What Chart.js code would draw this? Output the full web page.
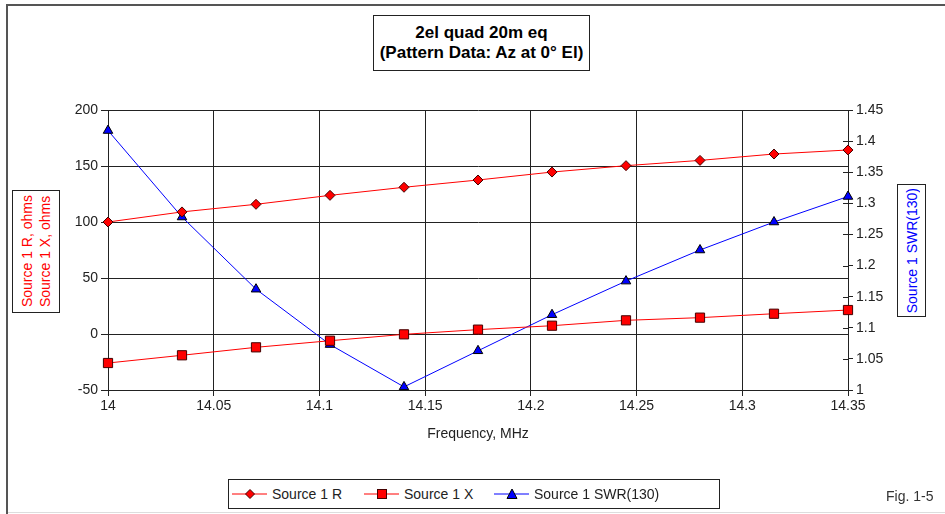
<!DOCTYPE html>
<html>
<head>
<meta charset="utf-8">
<script src="https://cdn.jsdelivr.net/npm/chart.js@4.4.0/dist/chart.umd.min.js"></script>
<style>
    body { margin: 0; background: #fff; font-family: "Liberation Sans", Arial, sans-serif; }
    #marco { position: relative; width: 945px; height: 514px; overflow: hidden; background: #fff; }
    #grafico { position: absolute; left: 0; top: 0; }
    #bordeSup { position: absolute; left: 6px; top: 4px; width: 945px; height: 2px; background: #555; }
    #bordeIzq { position: absolute; left: 6px; top: 4px; width: 2px; height: 510px; background: #555; }
    #bordeInf { position: absolute; left: 8px; top: 512px; width: 937px; height: 1px; background: #ddd; }
    .caja { position: absolute; border: 1px solid #222; background: #fff; box-sizing: border-box; }
    #titulo { left: 373px; top: 15px; width: 217px; height: 56px; font-weight: bold; font-size: 17px;
              text-align: center; line-height: 20px; padding-top: 7px; color: #000; white-space: nowrap; }
    .vertical { position: absolute; display: flex; align-items: center; justify-content: center; }
    .vertical span { writing-mode: vertical-rl; transform: rotate(180deg); font-size: 14px; line-height: 18px; white-space: nowrap; }
    #ejeIzq { left: 12px; top: 190px; width: 48px; height: 123px; }
    #ejeIzq span { color: #ff0000; }
    #ejeDer { left: 897px; top: 184px; width: 29px; height: 133px; }
    #ejeDer span { color: #0000ff; }
    #leyenda { left: 228px; top: 479px; width: 492px; height: 30px; }
    .item { position: absolute; top: 0; height: 28px; display: flex; align-items: center; font-size: 14px; color: #222; }
    .item svg { margin-right: 4px; }
    #fig { position: absolute; left: 886px; top: 488px; font-size: 14px; color: #333; }
</style>
</head>
<body>
<div id="marco">
    <canvas id="grafico" width="945" height="514"></canvas>
    <div id="bordeSup"></div>
    <div id="bordeIzq"></div>
    <div id="bordeInf"></div>

    <div id="titulo" class="caja">2el quad 20m eq<br>(Pattern Data: Az at 0° El)</div>

    <div id="ejeIzq" class="caja vertical"><span>Source 1 R, ohms<br>Source 1 X, ohms</span></div>
    <div id="ejeDer" class="caja vertical"><span>Source 1 SWR(130)</span></div>

    <div id="leyenda" class="caja">
        <div class="item" style="left:3px">
            <svg width="36" height="12"><line x1="0" y1="6" x2="35" y2="6" stroke="#ff0000" stroke-width="1"/>
                <polygon points="18,1.5 22.5,6 18,10.5 13.5,6" fill="#ff0000" stroke="#400" stroke-width="1"/></svg>
            Source 1 R
        </div>
        <div class="item" style="left:135px">
            <svg width="36" height="12"><line x1="0" y1="6" x2="35" y2="6" stroke="#ff0000" stroke-width="1"/>
                <rect x="13.5" y="1.5" width="9" height="9" fill="#ff0000" stroke="#400" stroke-width="1"/></svg>
            Source 1 X
        </div>
        <div class="item" style="left:265px">
            <svg width="36" height="12"><line x1="0" y1="6" x2="35" y2="6" stroke="#0000ff" stroke-width="1"/>
                <polygon points="18,1 23,10.5 13,10.5" fill="#0000ff" stroke="#000" stroke-width="1"/></svg>
            Source 1 SWR(130)
        </div>
    </div>

    <div id="fig">Fig. 1-5</div>
</div>

<script>
// ------------------------------ Datos ------------------------------
const frecuencias = [14, 14.035, 14.07, 14.105, 14.14, 14.175, 14.21, 14.245, 14.28, 14.315, 14.35];
const resistencia = [100, 109, 115.8, 123.8, 131, 137.5, 144.6, 150.3, 155, 160.7, 164.3];
const reactancia = [-25.9, -19, -11.9, -6, -0.3, 3.9, 7.4, 12.2, 14.6, 18.1, 21.4];
const swr = [1.417, 1.278, 1.162, 1.073, 1.005, 1.063, 1.121, 1.175, 1.225, 1.270, 1.311];

const fuente = { family: "'Liberation Sans', Arial, sans-serif", size: 14 };
const colorTexto = "#222";

// arma los pares x/y a partir de las listas
function puntos(valores) {
    return frecuencias.map((f, i) => ({ x: f, y: valores[i] }));
}

function numeroCorto(v) {
    return parseFloat(Number(v).toFixed(2)).toString();
}

// Marcas que cruzan el eje derecho hacia adentro
const marcasInternas = {
    id: "marcasInternas",
    afterDraw(chart) {
        const esc = chart.scales.y1;
        const ctx = chart.ctx;
        ctx.save();
        ctx.strokeStyle = "#222";
        ctx.lineWidth = 1;
        esc.ticks.forEach(t => {
            const y = Math.round(esc.getPixelForValue(t.value)) + 0.5;
            ctx.beginPath();
            ctx.moveTo(esc.left - 5, y);
            ctx.lineTo(esc.left, y);
            ctx.stroke();
        });
        ctx.restore();
    }
};

// ------------------------------ Gráfico ------------------------------
const ctx = document.getElementById("grafico").getContext("2d");

new Chart(ctx, {
    type: "line",
    data: {
        datasets: [
            {
                label: "Source 1 R",
                data: puntos(resistencia),
                yAxisID: "y",
                borderColor: "#ff0000",
                borderWidth: 1,
                backgroundColor: "#ff0000",
                pointStyle: "rectRot",
                pointRadius: 5,
                pointBorderColor: "#400",
                pointBorderWidth: 1,
                clip: false
            },
            {
                label: "Source 1 X",
                data: puntos(reactancia),
                yAxisID: "y",
                borderColor: "#ff0000",
                borderWidth: 1,
                backgroundColor: "#ff0000",
                pointStyle: "rect",
                pointRadius: 6.5,
                pointBorderColor: "#400",
                pointBorderWidth: 1,
                clip: false
            },
            {
                label: "Source 1 SWR(130)",
                data: puntos(swr),
                yAxisID: "y1",
                borderColor: "#0000ff",
                borderWidth: 1,
                backgroundColor: "#0000ff",
                pointStyle: "triangle",
                pointRadius: 5.5,
                pointBorderColor: "#000",
                pointBorderWidth: 1,
                clip: false
            }
        ]
    },
    options: {
        responsive: false,
        animation: false,
        layout: { padding: { top: 110, left: 0, right: 0, bottom: 68 } },
        plugins: {
            legend: { display: false },
            tooltip: { enabled: false }
        },
        elements: { line: { tension: 0 } },
        scales: {
            x: {
                type: "linear",
                min: 14,
                max: 14.35,
                afterFit: (s) => { s.height = 56; },
                ticks: { stepSize: 0.05, color: colorTexto, font: fuente, padding: 2, maxRotation: 0, callback: numeroCorto },
                grid: { color: "#222", lineWidth: 1, tickLength: 6 },
                border: { color: "#222", width: 1 },
                title: { display: true, text: "Frequency, MHz", color: colorTexto, font: fuente, padding: { top: 0, bottom: 3 } }
            },
            y: {
                position: "left",
                min: -50,
                max: 200,
                afterFit: (s) => { s.width = 108; },
                ticks: { stepSize: 50, color: colorTexto, font: fuente, padding: 3 },
                grid: { color: "#222", lineWidth: 1, tickLength: 7 },
                border: { color: "#222", width: 1 }
            },
            y1: {
                position: "right",
                min: 1,
                max: 1.45,
                afterFit: (s) => { s.width = 97; },
                ticks: { stepSize: 0.05, color: colorTexto, font: fuente, padding: 3, callback: numeroCorto },
                grid: { drawOnChartArea: false, color: "#222", tickLength: 5 },
                border: { color: "#222", width: 1 }
            }
        }
    },
    plugins: [marcasInternas]
});
</script>
</body>
</html>
